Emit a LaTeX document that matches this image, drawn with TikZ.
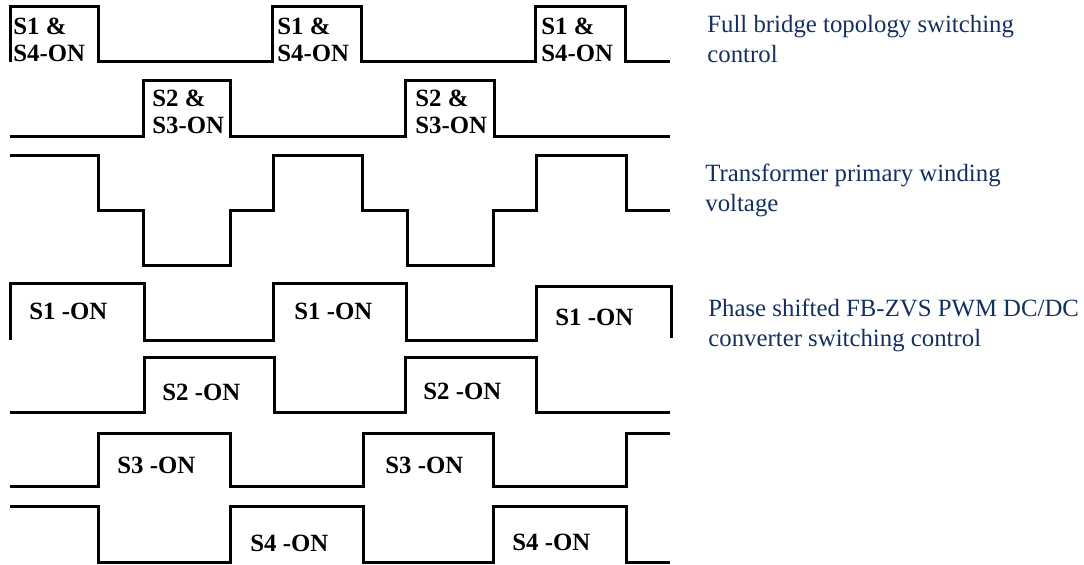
\documentclass[tikz,border=0pt]{standalone}
\usepackage{fontspec}
\setmainfont{Liberation Serif}
\usepackage{tikz}
\usetikzlibrary{positioning}

\begin{document}
\begin{tikzpicture}[x=0.5pt, y=-0.5pt,
    wave/.style={line width=1.5pt, black, line join=miter},
    onlabel/.style={font=\fontsize{12.4}{13.5}\selectfont\bfseries, inner sep=0pt, align=left},
    caption/.style={font=\fontsize{12.4}{15}\selectfont, text=captionNavy, inner sep=0pt, align=left}]

    % Define colors
    \definecolor{captionNavy}{RGB}{20, 48, 96}

    \useasboundingbox (0,0) rectangle (1084,565);

    % === FULL BRIDGE SWITCHING ===
    \draw[wave] (10,62) -- (10,7) -- (98,7) -- (98,62) -- (272,62) -- (272,7) -- (361,7)
        -- (361,62) -- (535,62) -- (535,7) -- (625,7) -- (625,62) -- (670,62);
    \draw[wave] (10,137) -- (143,137) -- (143,81) -- (230,81) -- (230,137) -- (405,137)
        -- (405,81) -- (494,81) -- (494,137) -- (670,137);

    \foreach \x [count=\i] in {13, 277, 541} {
        \node[onlabel, anchor=north west] (sonefour\i) at (\x, 18) {S1 \&\\S4-ON};
    }
    \foreach \x [count=\i] in {152, 415} {
        \node[onlabel, anchor=north west] (stwothree\i) at (\x, 90) {S2 \&\\S3-ON};
    }

    % === TRANSFORMER VOLTAGE ===
    \draw[wave] (10,156) -- (98,156) -- (98,211) -- (143,211) -- (143,266) -- (230,266)
        -- (230,211) -- (273,211) -- (273,156) -- (362,156) -- (362,211) -- (407,211)
        -- (407,266) -- (493,266) -- (493,211) -- (536,211) -- (536,156) -- (626,156)
        -- (626,211) -- (670,211);

    % === PHASE SHIFTED SWITCHING ===
    \draw[wave] (10,340) -- (10,284) -- (144,284) -- (144,341) -- (273,341) -- (273,284)
        -- (406,284) -- (406,341) -- (536,341) -- (536,287) -- (671,287) -- (671,338);
    \draw[wave] (10,413) -- (144,413) -- (144,358) -- (274,358) -- (274,413) -- (405,413)
        -- (405,358) -- (536,358) -- (536,413) -- (670,413);
    \draw[wave] (10,487) -- (98,487) -- (98,434) -- (230,434) -- (230,487) -- (363,487)
        -- (363,434) -- (493,434) -- (493,487) -- (626,487) -- (626,434) -- (670,434);
    \draw[wave] (10,507) -- (98,507) -- (98,563) -- (230,563) -- (230,507) -- (363,507)
        -- (363,563) -- (493,563) -- (493,507) -- (626,507) -- (626,563) -- (670,563);

    \foreach \x/\y [count=\i] in {29/320, 294/320, 555/326} {
        \node[onlabel, anchor=base west] (sone\i) at (\x, \y) {S1 -ON};
    }
    \foreach \x/\y [count=\i] in {162/401, 423/400} {
        \node[onlabel, anchor=base west] (stwo\i) at (\x, \y) {S2 -ON};
    }
    \foreach \x/\y [count=\i] in {117/474, 385/474} {
        \node[onlabel, anchor=base west] (sthree\i) at (\x, \y) {S3 -ON};
    }
    \foreach \x/\y [count=\i] in {250/552, 512/551} {
        \node[onlabel, anchor=base west] (sfour\i) at (\x, \y) {S4 -ON};
    }

    % === CAPTIONS ===
    \node[caption, anchor=base west] (capbridge) at (707,63) {Full bridge topology switching\\control};
    \node[caption, anchor=base west] (captrafo) at (705,212) {Transformer primary winding\\voltage};
    \node[caption, anchor=base west] (capshift) at (708,347) {Phase shifted FB-ZVS PWM DC/DC\\converter switching control};

\end{tikzpicture}
\end{document}
